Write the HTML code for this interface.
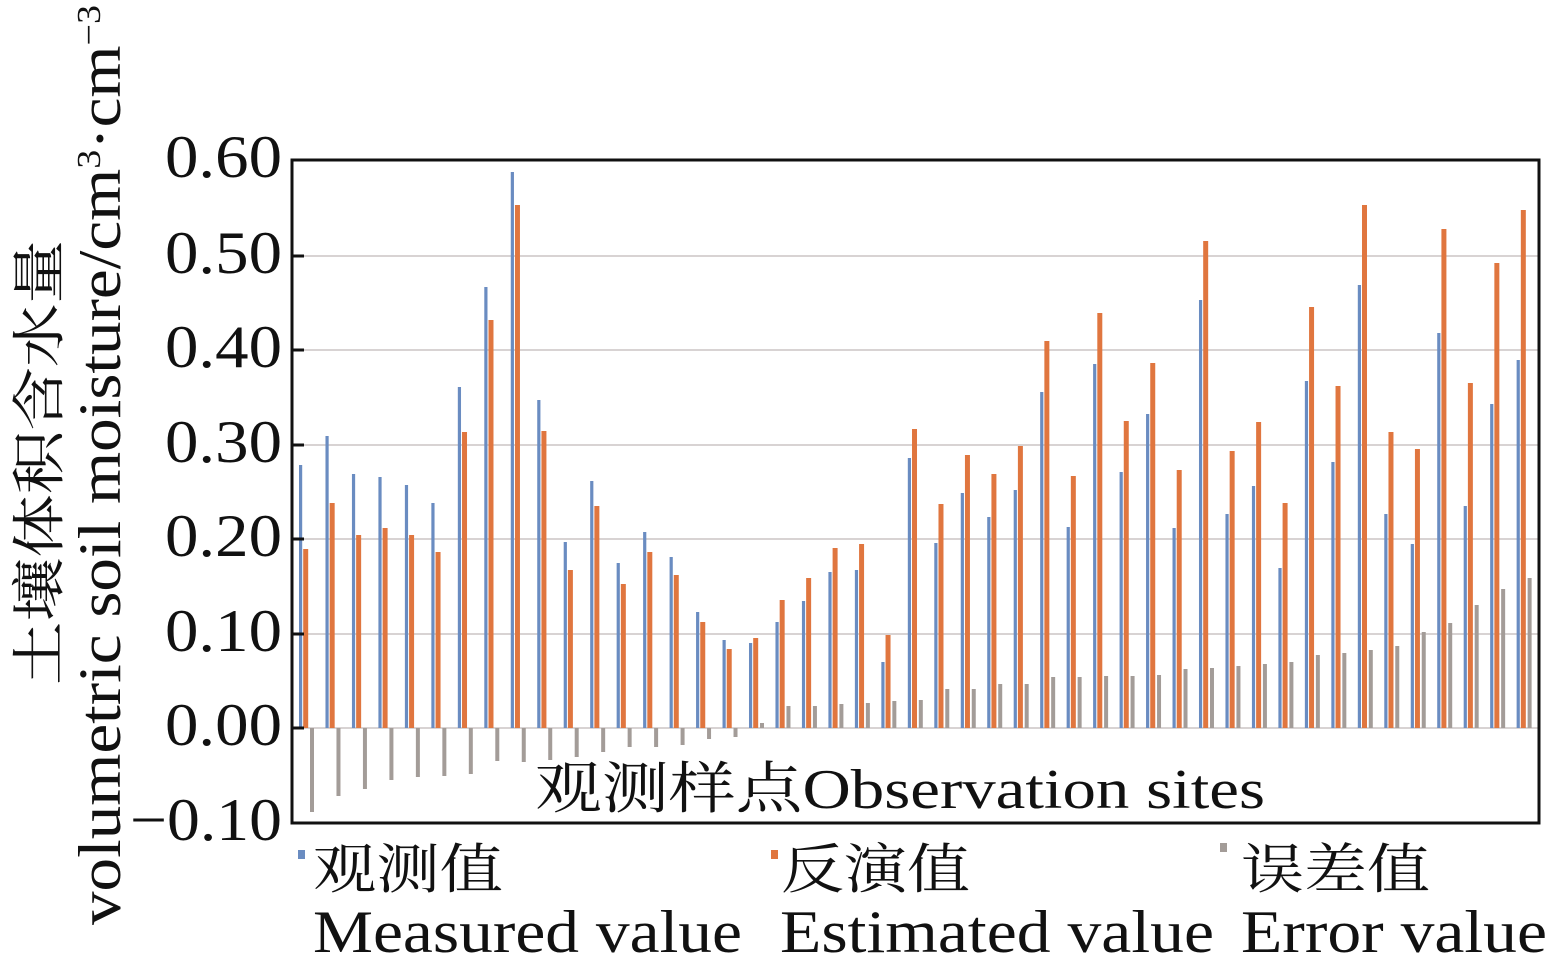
<!DOCTYPE html><html><head><meta charset="utf-8"><style>body{margin:0;background:#fff}svg{display:block}text{font-family:"Liberation Serif","Noto Serif CJK SC",serif;fill:#111}</style></head><body>
<svg id="s" width="1555" height="970" viewBox="0 0 1555 970">
<g id="grid"></g>
<g id="bars"></g>
<rect x="292" y="160" width="1247" height="663" fill="none" stroke="#111" stroke-width="3"/>
<g id="ticks"></g>
<g font-size="60">
<text x="165" y="177" textLength="117" lengthAdjust="spacingAndGlyphs">0.60</text><text x="165" y="273" textLength="117" lengthAdjust="spacingAndGlyphs">0.50</text><text x="165" y="367" textLength="117" lengthAdjust="spacingAndGlyphs">0.40</text><text x="165" y="462" textLength="117" lengthAdjust="spacingAndGlyphs">0.30</text><text x="165" y="556" textLength="117" lengthAdjust="spacingAndGlyphs">0.20</text><text x="165" y="651" textLength="117" lengthAdjust="spacingAndGlyphs">0.10</text><text x="165" y="745" textLength="117" lengthAdjust="spacingAndGlyphs">0.00</text><text x="130" y="840" textLength="152" lengthAdjust="spacingAndGlyphs">−0.10</text>
</g>
<text x="535" y="808" font-size="56" textLength="730" lengthAdjust="spacingAndGlyphs">观测样点Observation sites</text>
<text transform="translate(58,685) rotate(-90)" font-size="54" textLength="445" lengthAdjust="spacingAndGlyphs">土壤体积含水量</text>
<text transform="translate(120,925) rotate(-90)" font-size="60" textLength="920" lengthAdjust="spacingAndGlyphs">volumetric soil moisture/cm<tspan font-size="34" dy="-20">3</tspan><tspan dy="20">·cm</tspan><tspan font-size="34" dy="-20">−3</tspan></text>
<rect x="298" y="850" width="7" height="9" fill="#6a8cc1"/><text x="313" y="888" font-size="54" textLength="190" lengthAdjust="spacingAndGlyphs">观测值</text><text x="313" y="952" font-size="60" textLength="429" lengthAdjust="spacingAndGlyphs">Measured value</text>
<rect x="771" y="850" width="7" height="9" fill="#e0763f"/><text x="781" y="888" font-size="54" textLength="189" lengthAdjust="spacingAndGlyphs">反演值</text><text x="780" y="952" font-size="60" textLength="434" lengthAdjust="spacingAndGlyphs">Estimated value</text>
<rect x="1220" y="843" width="7" height="9" fill="#a39c98"/><text x="1241" y="888" font-size="54" textLength="189" lengthAdjust="spacingAndGlyphs">误差值</text><text x="1241" y="952" font-size="60" textLength="306" lengthAdjust="spacingAndGlyphs">Error value</text>
</svg>
<script>
var ns="http://www.w3.org/2000/svg";
function R(p,x,y,w,h,f){var r=document.createElementNS(ns,'rect');r.setAttribute('x',x);r.setAttribute('y',y);r.setAttribute('width',w);r.setAttribute('height',h);if(f)r.setAttribute('fill',f);document.getElementById(p).appendChild(r);}
var ys=[160,256,350,445,539,634,728,823];
ys.forEach(function(y,i){if(i>0&&i<7)R('grid',294,y-1,1244,2,'#d8d3d3');R('ticks',292,y-1.5,12,3,'#111');});
var b=[465,436,474,477,485,503,387,287,172,400,542,481,563,532,557,612,640,643,622,601,572,570,662,458,543,493,517,490,392,527,364,472,414,528,300,514,486,568,381,462,285,514,544,333,506,404,360];
var o=[549,503,535,528,535,552,432,320,205,431,570,506,584,552,575,622,649,638,600,578,548,544,635,429,504,455,474,446,341,476,313,421,363,470,241,451,422,503,307,386,205,432,449,229,383,263,210];
var g=[812,796,789,780,777,776,774,761,762,760,757,752,747,747,745,739,737,723,706,706,704,703,701,700,689,689,684,684,677,677,676,676,675,669,668,666,664,662,655,653,650,646,632,623,605,589,578];
for(var i=0;i<47;i++){var x=299+i*26.47;
R('bars',x,b[i],3.2,728-b[i],'#6a8cc1');
R('bars',x+4.2,o[i],5,728-o[i],'#e0763f');
var gy=g[i];R('bars',x+11,Math.min(gy,728),4,Math.abs(728-gy),'#a39c98');}
</script>
</body></html>
